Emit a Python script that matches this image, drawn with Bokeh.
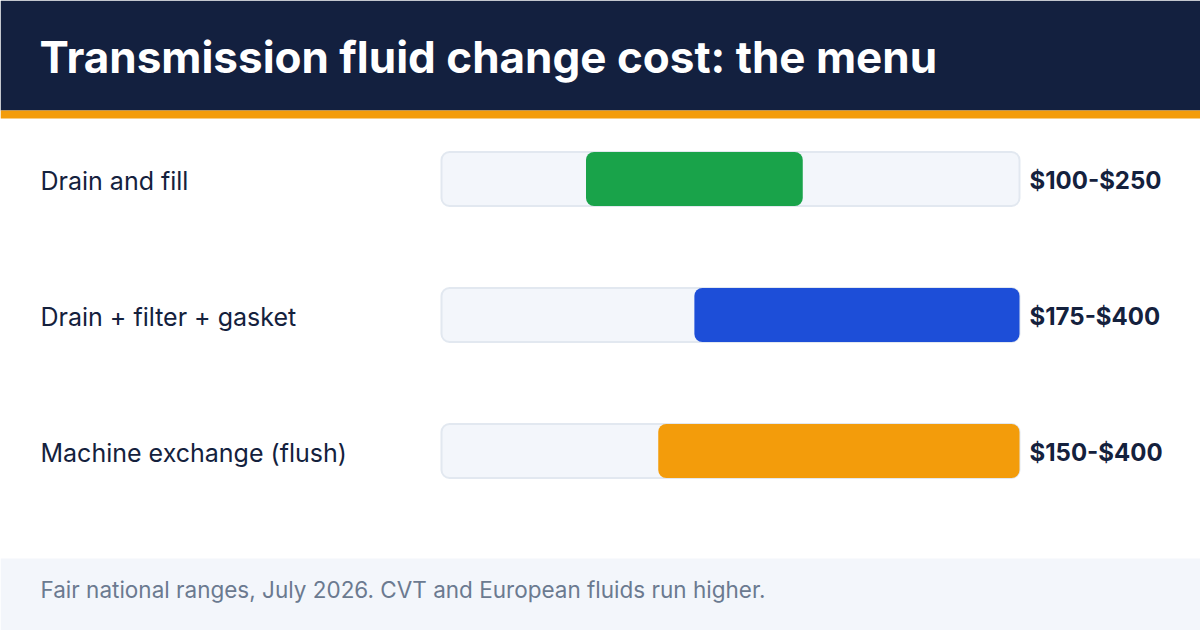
from bokeh.plotting import figure
from bokeh.models import Range1d
from bokeh.core.properties import value
from bokeh.embed import file_html
from bokeh.resources import INLINE

# --- data ---
services = ["Drain and fill", "Drain + filter + gasket", "Machine exchange (flush)"]
low = [100, 175, 150]
high = [250, 400, 400]
colors = ["#19a34a", "#1d4ed8", "#f39c0b"]
price_labels = ["$100-$250", "$175-$400", "$150-$400"]
scale_max = 400

title = "Transmission fluid change cost: the menu"
note = "Fair national ranges, July 2026. CVT and European fluids run higher."

# --- layout (pixels) ---
W, H = 1200, 630
track_left, track_right = 441, 1019
px_per_unit = (track_right - track_left) / scale_max
row_top, row_step, bar_h = 178.5, 136, 54

NAVY = "#13203f"
INK = "#14213d"
FONT = "Inter"
# the svg text baseline lands lower than the canvas one; lift text by this share of its size
LIFT = 0.4

p = figure(width=W, height=H, output_backend="svg", toolbar_location=None,
           x_range=Range1d(-track_left / px_per_unit, (W - track_left) / px_per_unit),
           y_range=Range1d(H, 0), min_border=0)
p.extra_x_ranges = {"px": Range1d(0, W)}
p.axis.visible = False
p.grid.visible = False
p.outline_line_color = None
p.background_fill_color = "white"
p.border_fill_color = "white"

# header band and accent strip
p.quad(left=0, right=W, top=0, bottom=110, fill_color=NAVY, line_color=None, x_range_name="px")
p.quad(left=0, right=W, top=110, bottom=118, fill_color="#f39c0b", line_color=None, x_range_name="px")
p.text(x=[39], y=[74 - LIFT * 44], text=[title], text_color="white", text_font=value(FONT),
       text_font_size="44px", text_font_style="bold", text_baseline="alphabetic",
       x_range_name="px")

# footer band
p.quad(left=0, right=W, top=558, bottom=H, fill_color="#f3f6fb", line_color=None, x_range_name="px")
p.text(x=[40], y=[598 - LIFT * 22.5], text=[note], text_color="#6b7a90", text_font=value(FONT),
       text_font_size="22.5px", text_baseline="alphabetic", x_range_name="px")

ys = [row_top + i * row_step for i in range(len(services))]

# background tracks across the full scale
p.hbar(y=ys, left=0, right=scale_max, height=bar_h, fill_color="#f3f6fb",
       line_color="#e2e8f0", line_width=2, border_radius=8)

# price ranges
p.hbar(y=ys, left=low, right=high, height=bar_h, fill_color=colors,
       line_color=None, border_radius=8)

# row labels and range labels
p.text(x=[40] * len(ys), y=[y + 12 - LIFT * 25 for y in ys], text=services, text_color=INK,
       text_font=value(FONT), text_font_size="25px", text_baseline="alphabetic",
       x_range_name="px")
p.text(x=[1029] * len(ys), y=[y + 11 - LIFT * 24 for y in ys], text=price_labels, text_color=INK,
       text_font=value(FONT), text_font_size="24px", text_font_style="bold",
       text_baseline="alphabetic", x_range_name="px")

open("out.html", "w").write(file_html(p, INLINE))
